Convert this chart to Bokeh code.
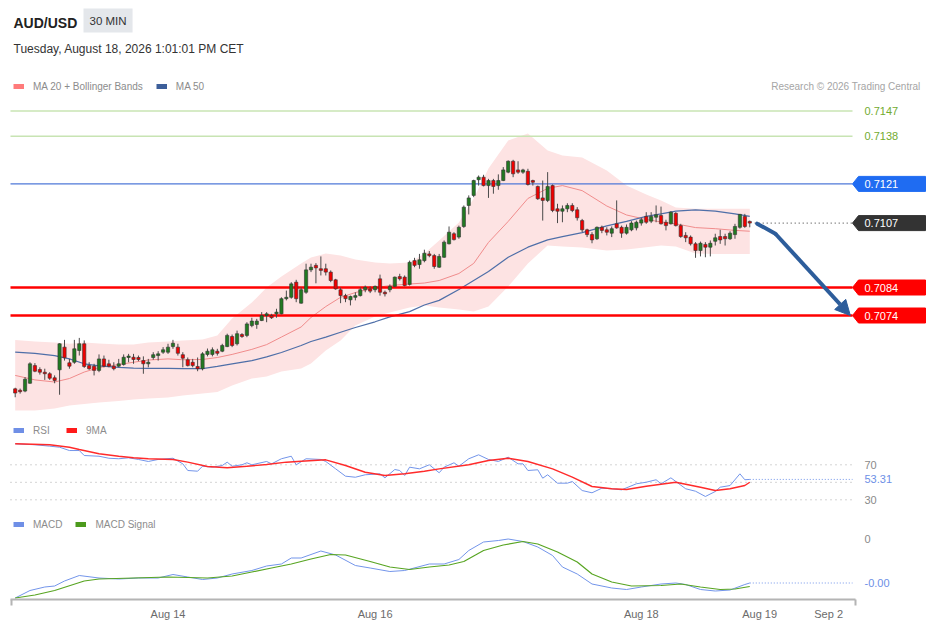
from bokeh.plotting import figure
from bokeh.models import (ColumnDataSource, Range1d, Label, Legend, LegendItem,
                          FixedTicker, Arrow, NormalHead)
from bokeh.layouts import column
from bokeh.embed import file_html
from bokeh.resources import INLINE

# ---------------- data ----------------
instrument = "AUD/USD"
timeframe = "30 MIN"
timestamp = "Tuesday, August 18, 2026 1:01:01 PM CET"
credit = "Research \u00a9 2026 Trading Central"

opens = [
    0.70478, 0.70473, 0.70470, 0.70498, 0.70561, 0.70547, 0.705375, 0.70532, 0.705175, 0.70546,
    0.70627, 0.70571, 0.70573, 0.70615, 0.70639, 0.70561, 0.70559, 0.70544, 0.70585, 0.705675,
    0.70559, 0.70559, 0.70565, 0.70590, 0.70591, 0.70590, 0.70579, 0.705675, 0.70590, 0.70597,
    0.70609, 0.70609, 0.70629, 0.70627, 0.70600, 0.70582, 0.70573, 0.70558, 0.70550, 0.70601,
    0.70601, 0.706125, 0.706125, 0.70629, 0.70665, 0.70639, 0.70672, 0.70669, 0.70704, 0.70708,
    0.70722, 0.70740, 0.70740, 0.70746, 0.70746, 0.70800, 0.70805, 0.70859, 0.70784, 0.70823,
    0.70903, 0.70919, 0.70907, 0.70907, 0.70895, 0.708675, 0.70832, 0.70811, 0.70796, 0.70805,
    0.70811, 0.70832, 0.70835, 0.70832, 0.70871, 0.70823, 0.70832, 0.70844, 0.70879, 0.70877,
    0.70851, 0.70936, 0.70922, 0.70936, 0.70960, 0.70954, 0.709125, 0.70948, 0.70996, 0.71032,
    0.71020, 0.71058, 0.71133, 0.71169, 0.71225, 0.71234, 0.71204, 0.71222, 0.71204, 0.71222,
    0.71252, 0.71291, 0.71260, 0.71252, 0.71255, 0.71222, 0.71201, 0.71160, 0.71151, 0.71204,
    0.71121, 0.711125, 0.71121, 0.71133, 0.711175, 0.71079, 0.71046, 0.71029, 0.71014, 0.71055,
    0.71046, 0.71034, 0.710675, 0.71055, 0.71034, 0.71046, 0.71053, 0.71070, 0.71094, 0.71077,
    0.71091, 0.71097, 0.71073, 0.710675, 0.71105, 0.71061, 0.71026, 0.71020, 0.70996, 0.70972,
    0.70994, 0.70984, 0.71005, 0.71022, 0.71022, 0.71014, 0.71029, 0.71055, 0.71094, 0.71076,
]
highs = [
    0.70482, 0.70479, 0.70520, 0.70573, 0.70570, 0.70555, 0.70550, 0.705375, 0.70526, 0.70641,
    0.70653, 0.70585, 0.70653, 0.70660, 0.70651, 0.70573, 0.705675, 0.70601, 0.70597, 0.70582,
    0.70573, 0.70585, 0.70601, 0.70603, 0.70603, 0.70597, 0.70594, 0.70585, 0.70609, 0.706125,
    0.70627, 0.70639, 0.70653, 0.70639, 0.70609, 0.70590, 0.70585, 0.70590, 0.70609, 0.70622,
    0.70626, 0.70621, 0.70639, 0.70675, 0.70672, 0.70686, 0.70677, 0.70716, 0.70732, 0.70728,
    0.70752, 0.70752, 0.70746, 0.70764, 0.70805, 0.70829, 0.70859, 0.708675, 0.70841, 0.70925,
    0.70925, 0.70927, 0.70951, 0.70925, 0.70901, 0.70871, 0.70840, 0.708175, 0.70811, 0.70823,
    0.70841, 0.70847, 0.70844, 0.70847, 0.70886, 0.70829, 0.70851, 0.70879, 0.70889, 0.70883,
    0.70936, 0.70946, 0.70960, 0.70975, 0.70970, 0.70960, 0.70960, 0.71008, 0.71058, 0.710375,
    0.71061, 0.71133, 0.71169, 0.71225, 0.71240, 0.712425, 0.71228, 0.71228, 0.71244, 0.71270,
    0.71294, 0.71296, 0.71291, 0.71264, 0.71264, 0.71225, 0.71204, 0.71222, 0.71252, 0.71208,
    0.71139, 0.71133, 0.71141, 0.71141, 0.71127, 0.71085, 0.71050, 0.710375, 0.71058, 0.71061,
    0.71055, 0.71058, 0.71151, 0.71061, 0.71065, 0.71077, 0.71079, 0.71089, 0.71109, 0.71109,
    0.71133, 0.71129, 0.71082, 0.711125, 0.71109, 0.710675, 0.710375, 0.71026, 0.71002, 0.71004,
    0.71002, 0.71008, 0.71032, 0.71046, 0.71032, 0.71041, 0.710675, 0.71103, 0.71103, 0.71079,
]
lows = [
    0.70448, 0.70461, 0.70466, 0.70496, 0.705375, 0.70529, 0.70510, 0.70510, 0.70498, 0.70457,
    0.70579, 0.70550, 0.705675, 0.70597, 0.70553, 0.70546, 0.70526, 0.705375, 0.70555, 0.70555,
    0.70544, 0.70555, 0.70561, 0.70573, 0.705675, 0.70577, 0.70532, 0.70555, 0.70582, 0.70579,
    0.70603, 0.70603, 0.70621, 0.70597, 0.70555, 0.70558, 0.70555, 0.70541, 0.70544, 0.70594,
    0.70594, 0.70597, 0.70609, 0.70627, 0.70627, 0.70633, 0.70660, 0.706625, 0.70698, 0.706925,
    0.70720, 0.70716, 0.70728, 0.70732, 0.70744, 0.70794, 0.70800, 0.707875, 0.70782, 0.708175,
    0.70895, 0.70855, 0.70883, 0.70883, 0.70859, 0.70832, 0.70784, 0.707875, 0.70776, 0.70794,
    0.70808, 0.70823, 0.70820, 0.70823, 0.70811, 0.70808, 0.70823, 0.70841, 0.70865, 0.70844,
    0.70847, 0.709125, 0.70907, 0.70930, 0.70948, 0.70907, 0.70910, 0.70946, 0.70994, 0.71008,
    0.71014, 0.71053, 0.71101, 0.711625, 0.71204, 0.71201, 0.71160, 0.71175, 0.71189, 0.71220,
    0.71248, 0.71234, 0.71246, 0.71246, 0.71204, 0.71204, 0.71153, 0.71079, 0.71145, 0.71109,
    0.71070, 0.71073, 0.71109, 0.71109, 0.71079, 0.710375, 0.71020, 0.70998, 0.71010, 0.71034,
    0.71026, 0.71020, 0.71050, 0.710175, 0.71029, 0.71041, 0.71044, 0.71061, 0.710675, 0.71070,
    0.71073, 0.71065, 0.71044, 0.71065, 0.71058, 0.710175, 0.71002, 0.70990, 0.70946, 0.70951,
    0.70948, 0.70951, 0.70990, 0.70996, 0.70990, 0.71010, 0.71014, 0.71050, 0.71053, 0.71055,
]
closes = [
    0.70463, 0.70468, 0.705125, 0.705675, 0.70541, 0.705375, 0.70532, 0.70516, 0.70508, 0.70639,
    0.70589, 0.70559, 0.70621, 0.70639, 0.70558, 0.70550, 0.70544, 0.70585, 0.70559, 0.70559,
    0.70550, 0.705675, 0.70591, 0.70595, 0.70583, 0.70583, 0.705675, 0.70573, 0.70600, 0.70603,
    0.706175, 0.70627, 0.70641, 0.70605, 0.705875, 0.70561, 0.70561, 0.70550, 0.70603, 0.706125,
    0.706175, 0.70605, 0.70633, 0.70669, 0.70633, 0.70675, 0.70665, 0.70710, 0.70720, 0.70720,
    0.70740, 0.70746, 0.70732, 0.70752, 0.70800, 0.70805, 0.70853, 0.70800, 0.70832, 0.70903,
    0.709125, 0.70910, 0.70901, 0.70895, 0.70865, 0.70835, 0.70811, 0.70800, 0.70808, 0.70811,
    0.70832, 0.70841, 0.70827, 0.70844, 0.70823, 0.708175, 0.70844, 0.70877, 0.70871, 0.70847,
    0.70930, 0.70919, 0.70939, 0.709625, 0.70954, 0.70915, 0.70951, 0.71002, 0.710375, 0.71011,
    0.71055, 0.71127, 0.71160, 0.71222, 0.71234, 0.71204, 0.71222, 0.71201, 0.71222, 0.71260,
    0.71291, 0.71246, 0.71252, 0.71260, 0.71208, 0.71216, 0.71157, 0.71151, 0.71201, 0.71115,
    0.711125, 0.71121, 0.71133, 0.71115, 0.71089, 0.71046, 0.71029, 0.71010, 0.71055, 0.71044,
    0.710375, 0.71050, 0.71053, 0.71034, 0.71055, 0.71070, 0.71073, 0.71082, 0.71073, 0.71094,
    0.71100, 0.710675, 0.71061, 0.71109, 0.71061, 0.71022, 0.710175, 0.70996, 0.70972, 0.70998,
    0.70984, 0.70998, 0.710175, 0.71010, 0.71014, 0.71034, 0.71058, 0.71101, 0.71058, 0.71070,
]
candle_idx = list(range(len(closes)))

# overlays (MA 20, Bollinger Bands, MA 50) read at these candle indices
ov_idx = [0, 4, 8, 11, 14, 17, 21, 24, 27, 31, 34, 38, 41, 44, 48, 51, 54, 58, 60, 63,
          66, 69, 73, 76, 80, 83, 86, 90, 93, 96, 100, 104, 108, 111, 115, 120, 124, 128, 131, 134,
          138, 142, 146, 149]
ma20 = [0.70526, 0.70510, 0.705025, 0.70515, 0.70538, 0.70554, 0.70565, 0.70573, 0.70581, 0.70585,
        0.70582, 0.70583, 0.70590, 0.70601, 0.70619, 0.70636, 0.70663, 0.70699, 0.70733, 0.70772,
        0.70805, 0.70822, 0.70839, 0.70847, 0.708525, 0.70856, 0.70865, 0.70890, 0.70926, 0.71001,
        0.71076, 0.71158, 0.71194, 0.71204, 0.71186, 0.71131, 0.71099, 0.71083, 0.71074, 0.710675,
        0.71054, 0.71050, 0.71044, 0.71041]
ma50 = [0.70609, 0.70605, 0.70597, 0.70585, 0.705675, 0.70560, 0.70555, 0.70552, 0.70551, 0.70551,
        0.70550, 0.70550, 0.70558, 0.70567, 0.70579, 0.70592, 0.70608, 0.70633, 0.70647, 0.70663,
        0.70680, 0.70697, 0.707175, 0.70735, 0.70754, 0.707775, 0.70794, 0.70833, 0.70865, 0.70897,
        0.70948, 0.70984, 0.71010, 0.71022, 0.71036, 0.71060, 0.71076, 0.71094, 0.71103, 0.711125,
        0.71117, 0.711125, 0.71103, 0.71094]
bb_upper = [0.706525, 0.70647, 0.70644, 0.70639, 0.70644, 0.70640, 0.70636, 0.70636, 0.70644, 0.70647,
            0.70651, 0.70654, 0.70669, 0.70729, 0.70786, 0.70840, 0.70879, 0.70926, 0.70947, 0.70961,
            0.70954, 0.70940, 0.70929, 0.70926, 0.70929, 0.70961, 0.71008, 0.71072, 0.71158, 0.71265,
            0.71365, 0.71390, 0.71329, 0.71311, 0.71304, 0.71258, 0.71204, 0.71172, 0.71151, 0.71126,
            0.71121, 0.71121, 0.71121, 0.71121]
bb_lower = [0.70401, 0.70401, 0.70408, 0.70419, 0.70424, 0.70429, 0.70435, 0.70440, 0.70444, 0.70447,
            0.70454, 0.70461, 0.70467, 0.70490, 0.70515, 0.70522, 0.70540, 0.70551, 0.70569, 0.70615,
            0.70651, 0.70704, 0.70736, 0.70751, 0.70769, 0.70776, 0.70769, 0.70761, 0.70754, 0.70772,
            0.70844, 0.70926, 0.70990, 0.70986, 0.70983, 0.70972, 0.70976, 0.70984, 0.70990, 0.70986,
            0.70961, 0.70960, 0.70960, 0.70960]

level_values = [0.7147, 0.7138, 0.7121, 0.7084, 0.7074]
level_labels = ["0.7147", "0.7138", "0.7121", "0.7084", "0.7074"]
last_price = 0.7107
last_price_label = "0.7107"

forecast_x = [150.5, 154.2, 169.4]
forecast_y = [0.71068, 0.71032, 0.70740]

rsi_idx = [0, 4, 7, 9, 11, 13, 14, 17, 19, 21, 23, 25, 27, 29, 32, 34, 35, 37, 38, 40,
           42, 43, 44, 46, 47, 48, 51, 52, 54, 56, 57, 59, 62, 63, 65, 67, 69, 71, 74, 75,
           77, 78, 79, 80, 82, 84, 86, 87, 89, 90, 92, 94, 96, 98, 100, 102, 103, 104, 106, 107,
           108, 110, 112, 113, 115, 117, 119, 121, 123, 126, 128, 130, 131, 133, 136, 138, 140, 142, 143, 145,
           147, 148, 149]
rsi = [94.0, 92.9, 91.3, 90.1, 86.3, 86.3, 80.6, 79.8, 77.5, 76.9, 78.0, 76.1, 73.8, 76.1, 77.5, 71.1, 63.5, 62.7, 68.4, 67.3,
       69.2, 73.0, 68.4, 70.0, 72.3, 70.0, 73.8, 71.1, 76.9, 79.8, 70.0, 76.9, 76.1, 73.8, 65.4, 57.0, 55.8, 58.6, 59.7, 55.1,
       64.6, 63.5, 57.8, 67.3, 65.4, 70.0, 60.9, 67.3, 72.3, 68.4, 76.9, 81.4, 76.1, 73.8, 78.7, 71.1, 71.1, 63.5, 64.3, 54.7,
       58.6, 49.0, 49.0, 50.9, 40.6, 38.0, 43.3, 42.6, 41.4, 48.3, 50.1, 52.9, 48.3, 55.1, 42.6, 39.8, 33.8, 39.5, 44.4, 46.3,
       59.7, 52.9, 53.31]
ma9_idx = [0, 7, 11, 13, 17, 21, 24, 27, 32, 35, 39, 43, 47, 51, 55, 58, 63, 67, 71, 75,
           79, 83, 86, 92, 96, 100, 104, 109, 113, 117, 121, 124, 128, 134, 139, 142, 145, 148, 149]
rsi_ma9 = [94.0, 92.9, 90.1, 87.5, 82.6, 79.8, 78.0, 76.9, 76.1, 73.0, 68.1, 66.6, 68.4, 70.3, 73.0, 74.1, 75.7, 69.2, 61.5, 57.8,
           59.7, 62.7, 65.4, 70.0, 74.9, 77.5, 73.8, 65.4, 55.8, 45.2, 42.6, 41.8, 45.5, 50.1, 44.4, 40.6, 42.6, 46.3, 50.1]
rsi_levels = [70, 50, 30]
rsi_level_labels = {70: "70", 30: "30"}

macd_idx = [0, 3, 6, 8, 10, 13, 17, 21, 25, 29, 32, 35, 38, 41, 44, 48, 51, 54, 56, 58,
            62, 65, 69, 72, 76, 79, 84, 87, 90, 92, 95, 98, 100, 103, 106, 109, 111, 114, 117, 121,
            124, 127, 131, 134, 136, 139, 142, 145, 148, 149]
macd = [-0.000119, -0.000104, -0.000097, -0.000095, -0.000085, -0.000074, -0.000079, -0.000081, -0.000079, -0.000079,
        -0.000072, -0.000077, -0.000082, -0.000079, -0.000071, -0.000064, -0.000055, -0.000051, -0.000039, -0.000039,
        -0.000025, -0.000033, -0.000054, -0.000059, -0.000066, -0.000064, -0.000051, -0.000051, -0.000042, -0.000024,
        -0.000007, -0.000004, -0.000001, -0.000006, -0.000017, -0.000034, -0.000057, -0.000071, -0.000091, -0.000099,
        -0.000102, -0.000097, -0.000091, -0.000089, -0.000092, -0.000102, -0.000105, -0.000103, -0.000092, -0.000089]
signal_idx = [0, 4, 8, 14, 17, 24, 31, 39, 44, 48, 52, 56, 60, 64, 67, 72, 76, 80, 84, 88,
              91, 95, 99, 103, 106, 110, 114, 117, 121, 125, 131, 135, 139, 143, 146, 149]
macd_signal = [-0.000119, -0.000113, -0.000104, -0.000085, -0.000081, -0.000079, -0.000077, -0.000079, -0.000075, -0.000067,
               -0.000059, -0.000051, -0.000041, -0.000032, -0.000033, -0.000046, -0.000057, -0.000062, -0.000057, -0.000053,
               -0.000046, -0.000024, -0.000013, -0.000006, -0.000011, -0.000027, -0.000047, -0.000071, -0.000087, -0.000095,
               -0.000094, -0.000091, -0.000097, -0.000102, -0.000101, -0.000096]

tick_pos = [31, 73, 127, 151, 165]
tick_labels = ["Aug 14", "Aug 16", "Aug 18", "Aug 19", "Sep 2"]

# ---------------- layout ----------------
FONT = "Liberation Sans"
W = 929
H1, H2, H3 = 420, 92, 117
NAN = float("nan")


def px(page_x):
    """page pixel column -> candle-index units (layout helper)"""
    return (page_x - 14.7) / 4.93


LINE_X0, LINE_X1 = px(10), px(852)
TAG_TIP, TAG_BODY, TAG_END = px(852), px(858), px(925)
LABEL_X = px(864)
xr = Range1d(px(0), px(929))


def make_fig(h, y_range, **kw):
    f = figure(width=W, height=h, x_range=xr, y_range=y_range, output_backend="svg",
               toolbar_location=None, min_border=0, outline_line_color=None,
               background_fill_color="white", border_fill_color="white", **kw)
    f.grid.visible = False
    return f


def swatch(fig, color):
    return fig.line([NAN], [NAN], line_color=color, line_width=5)


def legend(fig, items, loc):
    lg = Legend(items=[LegendItem(label=t, renderers=[r]) for t, r in items],
                location=loc, orientation="horizontal", glyph_width=11, glyph_height=6,
                label_standoff=9, spacing=13, padding=0, margin=0, border_line_color=None,
                background_fill_alpha=0, label_text_font=FONT, label_text_font_size="10px",
                label_text_color="#8c8c8c", label_height=12)
    fig.add_layout(lg)


def tag_shape(v, hh):
    return [TAG_TIP, TAG_BODY, TAG_END, TAG_END, TAG_BODY], [v, v + hh, v + hh, v - hh, v - hh]


# ---- price panel (page rows 0..420) ----
p1 = make_fig(H1, Range1d(0.70365, 0.71865), x_axis_location=None, y_axis_location=None)

p1.varea(x=ov_idx, y1=bb_lower, y2=bb_upper, fill_color="#fde3e3")
p1.line(ov_idx, ma20, line_color="#f08c8c", line_width=1)
p1.line(ov_idx, ma50, line_color="#4f6fa8", line_width=1.2)

level_styles = [
    dict(line="#c8e4b3", w=1.5, text="#72ab2f", tag=None),
    dict(line="#c8e4b3", w=1.5, text="#72ab2f", tag=None),
    dict(line="#4f78d8", w=1.2, text="white", tag="#1f6cf2"),
    dict(line="#ff0000", w=2.5, text="white", tag="#ff0000"),
    dict(line="#ff0000", w=2.5, text="white", tag="#ff0000"),
]
HH = 7.5 / 28000.0
for v, lab, st in zip(level_values, level_labels, level_styles):
    p1.line([LINE_X0, LINE_X1], [v, v], line_color=st["line"], line_width=st["w"])
    if st["tag"]:
        tx, ty = tag_shape(v, HH)
        p1.patch(tx, ty, fill_color=st["tag"], line_color=st["tag"])
    p1.add_layout(Label(x=LABEL_X, y=v, text=lab, text_color=st["text"], text_font=FONT,
                        text_font_size="11px", text_baseline="middle"))

colors = ["#217a21" if c >= o else "#f00000" for o, c in zip(opens, closes)]
src = ColumnDataSource(dict(x=candle_idx, h=highs, l=lows,
                            top=[max(o, c) for o, c in zip(opens, closes)],
                            bottom=[min(o, c) for o, c in zip(opens, closes)],
                            color=colors))
p1.segment(x0="x", y0="h", x1="x", y1="l", source=src, line_color="#4a4a4a", line_width=1)
p1.vbar(x="x", width=0.66, top="top", bottom="bottom", fill_color="color",
        line_color="#333333", line_width=0.6, source=src)

# last price dotted line + tag
p1.line([candle_idx[-1] + 1, LINE_X1], [last_price, last_price], line_color="#333333",
        line_dash="1 3", line_width=1)
tx, ty = tag_shape(last_price, HH)
p1.patch(tx, ty, fill_color="#333333", line_color="#333333")
p1.add_layout(Label(x=LABEL_X, y=last_price, text=last_price_label, text_color="white",
                    text_font=FONT, text_font_size="11px", text_baseline="middle"))

# forecast arrow
AC = "#2d5d9b"
p1.line(forecast_x[:2], forecast_y[:2], line_color=AC, line_width=4, line_cap="round")
p1.add_layout(Arrow(end=NormalHead(size=15, fill_color=AC, line_color=AC),
                    x_start=forecast_x[1], y_start=forecast_y[1],
                    x_end=forecast_x[2], y_end=forecast_y[2],
                    line_color=AC, line_width=4))

# header (screen units, measured from the bottom of the price panel)
B1 = H1
p1.add_layout(Label(x=13, y=B1 - 22, x_units="screen", y_units="screen", text=instrument,
                    text_font=FONT, text_font_size="14px", text_font_style="bold",
                    text_color="#222222", text_baseline="middle"))
p1.add_layout(Label(x=83, y=B1 - 20, x_units="screen", y_units="screen", text=timeframe,
                    text_font=FONT, text_font_size="11.5px", text_color="#333333",
                    text_baseline="middle", background_fill_color="#e4e7eb", padding=6))
p1.add_layout(Label(x=13, y=B1 - 48, x_units="screen", y_units="screen", text=timestamp,
                    text_font=FONT, text_font_size="12px", text_color="#333333",
                    text_baseline="middle"))
p1.add_layout(Label(x=920, y=B1 - 86, x_units="screen", y_units="screen", text=credit,
                    text_font=FONT, text_font_size="10px", text_color="#a5a5a5",
                    text_baseline="middle", text_align="right"))
legend(p1, [("MA 20 + Bollinger Bands", swatch(p1, "#ff7b7b")),
            ("MA 50", swatch(p1, "#3d5f9a"))], (13, B1 - 86 - 6))

# ---- RSI panel (page rows 420..512) ----
p2 = make_fig(H2, Range1d(15.49, 120.63), x_axis_location=None, y_axis_location=None)
for lv in rsi_levels:
    p2.line([LINE_X0, LINE_X1], [lv, lv], line_color="#a8a8a8", line_dash="1 4", line_width=1)
    if lv in rsi_level_labels:
        p2.add_layout(Label(x=LABEL_X, y=lv, text=rsi_level_labels[lv], text_color="#8a8a8a",
                            text_font=FONT, text_font_size="11px", text_baseline="middle"))
RC = "#7395ea"
p2.line(rsi_idx, rsi, line_color=RC, line_width=1)
p2.line(ma9_idx, rsi_ma9, line_color="#ff2b2b", line_width=1.4)
p2.line([rsi_idx[-1], LINE_X1], [rsi[-1], rsi[-1]], line_color=RC, line_dash="1 2", line_width=1)
p2.add_layout(Label(x=LABEL_X, y=rsi[-1], text=f"{rsi[-1]:.2f}", text_color="#6d8fe6",
                    text_font=FONT, text_font_size="11px", text_baseline="middle"))
B2 = H1 + H2
legend(p2, [("RSI", swatch(p2, "#6f8fe6")), ("9MA", swatch(p2, "#ff1a1a"))], (13, B2 - 430 - 6))

# ---- MACD panel (page rows 512..629, frame to 599) ----
p3 = make_fig(H3, Range1d(-0.000122, 0.000052), x_axis_location="below", y_axis_location=None)
p3.min_border_bottom = 30
p3.line(macd_idx, macd, line_color=RC, line_width=1)
p3.line(signal_idx, macd_signal, line_color="#58a522", line_width=1.2)
p3.line([macd_idx[-1], LINE_X1], [macd[-1], macd[-1]], line_color=RC, line_dash="1 2", line_width=1)
p3.add_layout(Label(x=LABEL_X, y=0, text="0", text_color="#8a8a8a",
                    text_font=FONT, text_font_size="11px", text_baseline="middle"))
p3.add_layout(Label(x=LABEL_X, y=macd[-1], text=f"{macd[-1]:.2f}", text_color="#6d8fe6",
                    text_font=FONT, text_font_size="11px", text_baseline="middle"))
B3 = 599
legend(p3, [("MACD", swatch(p3, "#6f8fe6")), ("MACD Signal", swatch(p3, "#4c9a1c"))],
       (13, B3 - 524 - 6))

ax = p3.xaxis[0]
ax.ticker = FixedTicker(ticks=tick_pos, minor_ticks=[px(10.5), px(854.5)])
ax.major_label_overrides = {t: l for t, l in zip(tick_pos, tick_labels)}
ax.bounds = (px(10), px(855))
ax.axis_line_color = "#b4b4b4"
ax.axis_line_width = 2
ax.major_tick_out = 0
ax.major_tick_in = 0
ax.minor_tick_out = 6
ax.minor_tick_in = 0
ax.minor_tick_line_color = "#b4b4b4"
ax.minor_tick_line_width = 2
ax.major_label_text_font = FONT
ax.major_label_text_font_size = "11px"
ax.major_label_text_color = "#6b6b6b"
ax.major_label_standoff = 2

layout = column(p1, p2, p3)
open("out.html", "w", encoding="utf-8").write(file_html(layout, INLINE, title="AUD/USD 30 MIN"))
